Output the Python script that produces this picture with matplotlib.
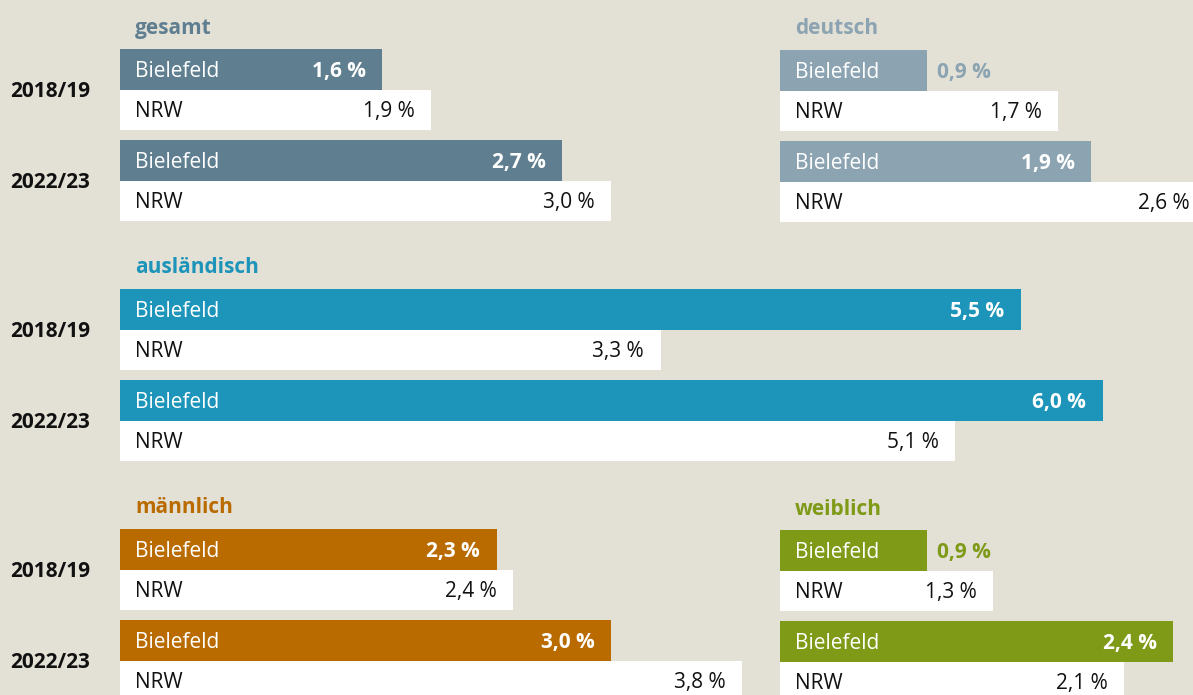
import matplotlib
matplotlib.use("Agg")
import matplotlib.pyplot as plt
from matplotlib import transforms

# ---------------- data ----------------
years = ["2018/19", "2022/23"]
row_labels = ["Bielefeld", "NRW"]

gesamt_bielefeld = [1.6, 2.7]
gesamt_nrw = [1.9, 3.0]
deutsch_bielefeld = [0.9, 1.9]
deutsch_nrw = [1.7, 2.6]
auslaendisch_bielefeld = [5.5, 6.0]
auslaendisch_nrw = [3.3, 5.1]
maennlich_bielefeld = [2.3, 3.0]
maennlich_nrw = [2.4, 3.8]
weiblich_bielefeld = [0.9, 2.4]
weiblich_nrw = [1.3, 2.1]

titles = ["gesamt", "deutsch", "ausländisch", "männlich", "weiblich"]

# ---------------- style ----------------
W, H = 1193, 695
BG = "#e3e0d6"
PX_PER_PCT = 163.8
FONT = ["Open Sans", "DejaVu Sans"]
FS = 15
PT = 0.72          # points per pixel at dpi 100
BASE_DY = -7.3     # baseline offset from bar centre, px (downwards)

plt.rcParams["font.family"] = FONT

fig = plt.figure(figsize=(W / 100, H / 100), dpi=100)
fig.patch.set_facecolor(BG)

BAR_UNIT_PX = 40.5
Y_BIEL = [0.5, 2.75]
Y_NRW = [1.5, 3.75]
YMAX = 4.25


def fmt(v):
    return f"{v:.1f} %".replace(".", ",")


def panel(x0, top, title, color, biel, nrw, show_years, title_dy):
    h_px = YMAX * BAR_UNIT_PX
    ax = fig.add_axes([x0 / W, 1 - (top + h_px) / H, (W - x0) / W, h_px / H])
    ax.set_facecolor("none")
    ax.set_xlim(0, (W - x0) / PX_PER_PCT)
    ax.set_ylim(YMAX, 0)
    ax.axis("off")
    ax.barh(Y_BIEL, biel, height=1.0, color=color, left=0, linewidth=0)
    ax.barh(Y_NRW, nrw, height=1.0, color="white", left=0, linewidth=0)
    kw = dict(textcoords="offset points", va="baseline", fontsize=FS,
              annotation_clip=False)
    for yb, yn, vb, vn in zip(Y_BIEL, Y_NRW, biel, nrw):
        ax.annotate(row_labels[0], (0, yb), xytext=(15 * PT, BASE_DY * PT),
                    ha="left", color="white", **kw)
        ax.annotate(row_labels[1], (0, yn), xytext=(15 * PT, BASE_DY * PT),
                    ha="left", color="#111111", **kw)
        if vb >= 1.0:
            ax.annotate(fmt(vb), (vb, yb), xytext=(-16.5 * PT, BASE_DY * PT),
                        ha="right", color="white", fontweight="bold", **kw)
        else:
            ax.annotate(fmt(vb), (vb, yb), xytext=(10 * PT, BASE_DY * PT),
                        ha="left", color=color, fontweight="bold", **kw)
        ax.annotate(fmt(vn), (vn, yn), xytext=(-16.5 * PT, BASE_DY * PT),
                    ha="right", color="#111111", **kw)
    ax.annotate(title, (0, 0), xytext=(15 * PT, title_dy * PT),
                ha="left", color=color, fontweight="bold", **kw)
    if show_years:
        trans = transforms.blended_transform_factory(fig.transFigure, ax.transData)
        off = transforms.offset_copy(trans, fig=fig, x=0, y=BASE_DY * PT, units="points")
        for yr, yc in zip(years, [1.0, 3.25]):
            fig.text(10 / W, yc, yr, transform=off, ha="left", va="baseline",
                     color="#111111", fontsize=FS, fontweight="bold")
    return ax


panel(120, 49, titles[0], "#5f7f90", gesamt_bielefeld, gesamt_nrw, True, 14.7)
panel(780, 50, titles[1], "#8ca4b2", deutsch_bielefeld, deutsch_nrw, False, 16)
panel(120, 289, titles[2], "#1d94b9", auslaendisch_bielefeld, auslaendisch_nrw, True, 16)
panel(120, 529, titles[3], "#b96b00", maennlich_bielefeld, maennlich_nrw, True, 16.3)
panel(780, 530, titles[4], "#7e9a16", weiblich_bielefeld, weiblich_nrw, False, 15)

fig.savefig("out.png", dpi=100, facecolor=BG)
